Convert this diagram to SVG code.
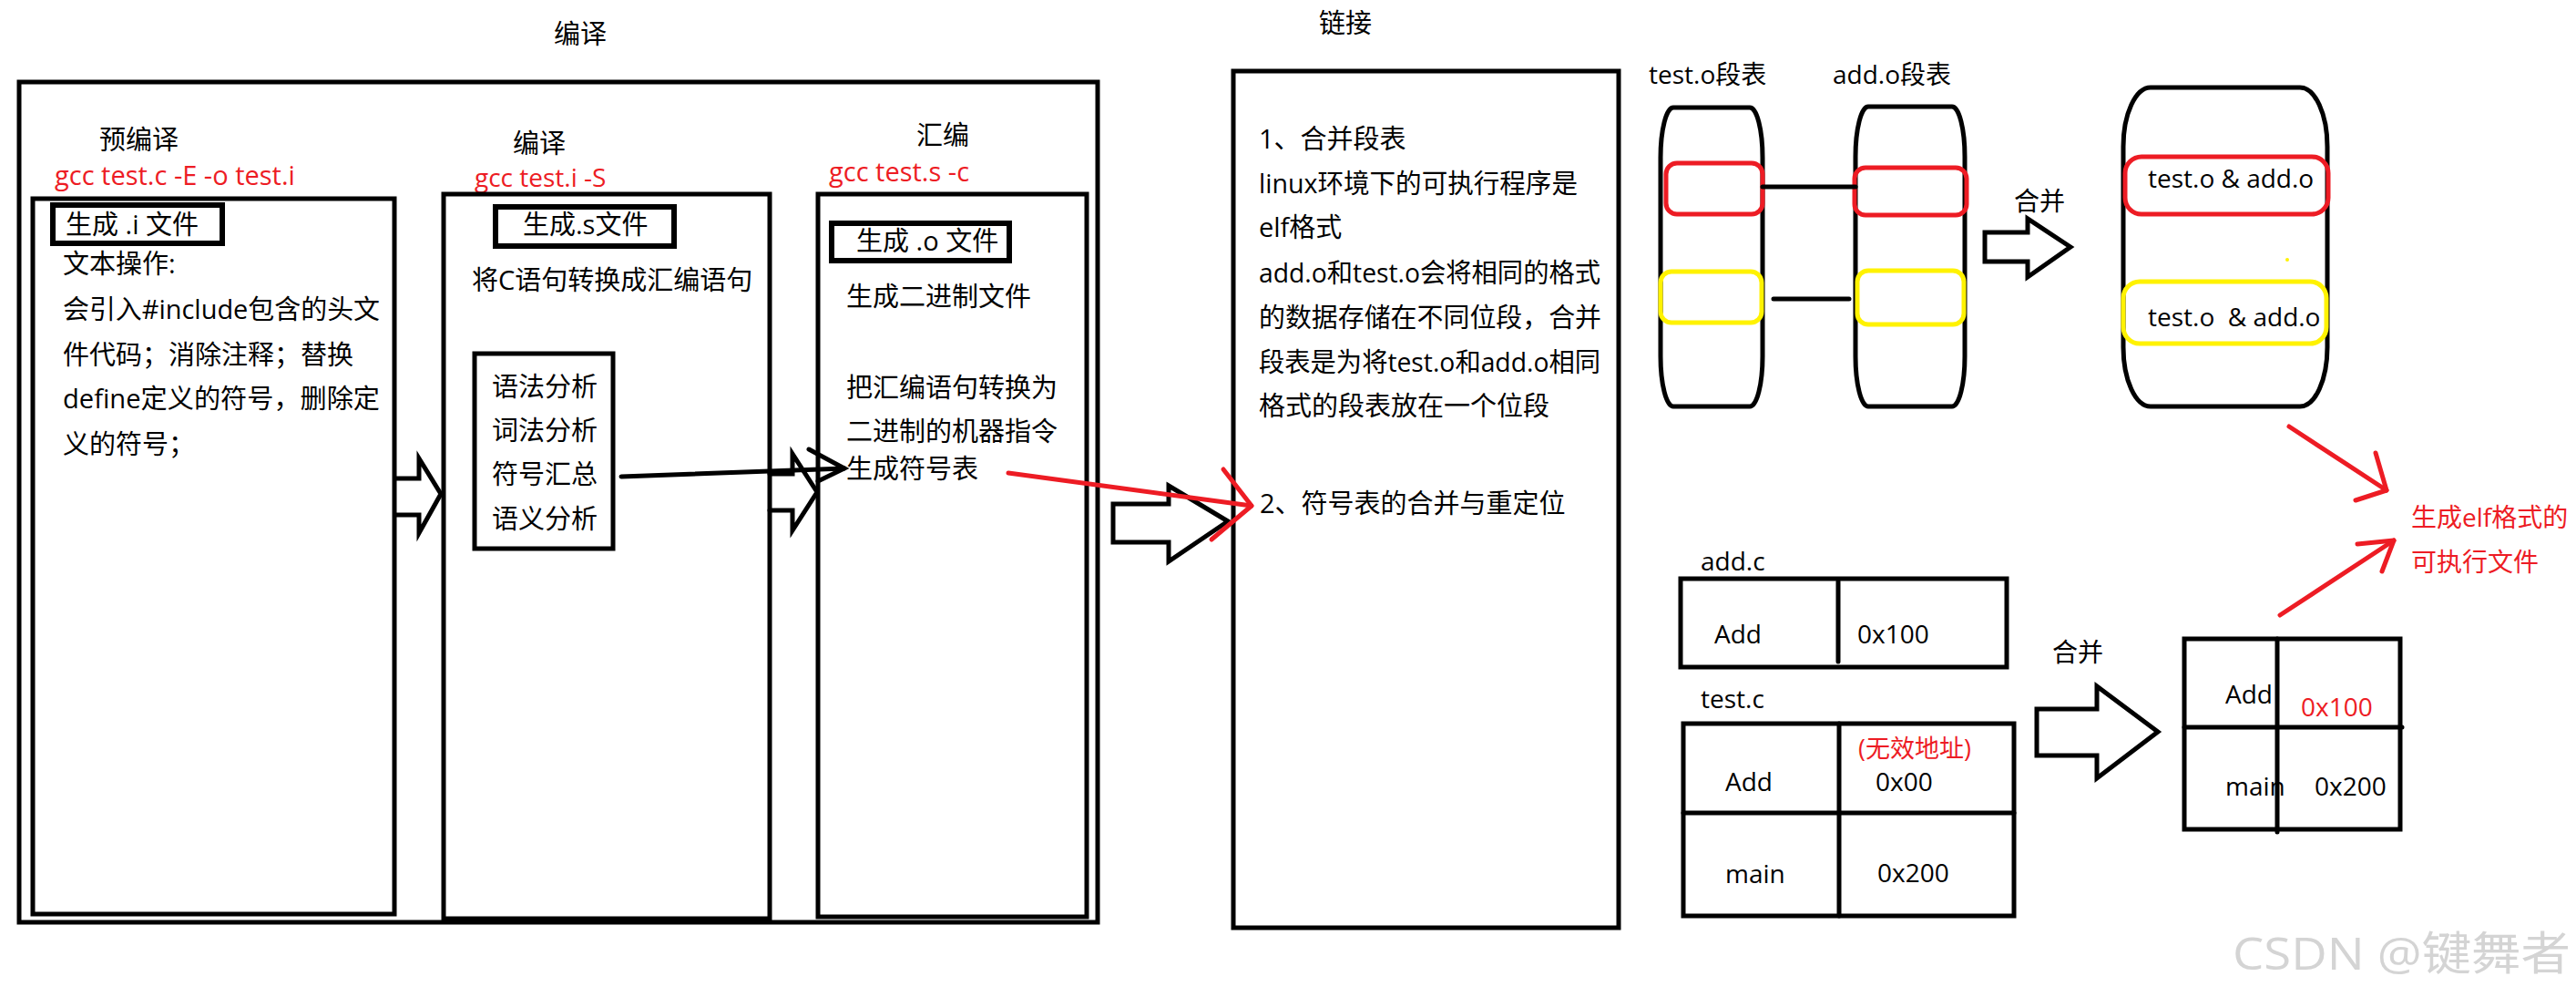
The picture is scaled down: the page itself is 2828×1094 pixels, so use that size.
<svg xmlns="http://www.w3.org/2000/svg" width="2828" height="1094" viewBox="0 0 2828 1094">
<style>
text{font-family:"Open Sans","Noto Sans CJK SC",sans-serif;font-size:29px;fill:#000}
.s{font-size:28px}
.r{fill:#ED1C24}
.box{fill:none;stroke:#000;stroke-width:5}
.lbl{fill:none;stroke:#000;stroke-width:6}
.ln{fill:none;stroke:#000;stroke-width:5;stroke-linecap:round;stroke-linejoin:miter}
.red{fill:none;stroke:#ED1C24;stroke-width:5;stroke-linecap:round;stroke-linejoin:round}
.yel{fill:none;stroke:#FFF200;stroke-width:5}
.wm{font-size:50px;fill:#d4d4d4}
</style>
<rect width="2828" height="1094" fill="#fff"/>

<g id="compile-stage">
  <text x="637" y="48" text-anchor="middle">编译</text>
  <rect class="box" x="21" y="90" width="1184" height="922"/>
</g>

<g id="preprocess">
  <text x="109" y="164">预编译</text>
  <text class="r" x="60" y="203">gcc test.c -E -o test.i</text>
  <rect class="box" x="36" y="218" width="397" height="785"/>
  <rect class="lbl" x="58" y="225" width="186" height="42"/>
  <text x="72" y="257">生成 .i 文件</text>
  <text x="69" y="300">文本操作:</text>
  <text x="69" y="350" textLength="348" lengthAdjust="spacingAndGlyphs">会引入#include包含的头文</text>
  <text x="69" y="400">件代码；消除注释；替换</text>
  <text x="69" y="448" textLength="348" lengthAdjust="spacingAndGlyphs">define定义的符号，删除定</text>
  <text x="69" y="498">义的符号；</text>
</g>

<g id="compile">
  <text x="563" y="168">编译</text>
  <text class="r s" x="521" y="205">gcc test.i -S</text>
  <rect class="box" x="487" y="213" width="358" height="795"/>
  <rect class="lbl" x="544" y="227" width="196" height="43"/>
  <text x="574" y="257">生成.s文件</text>
  <text x="518" y="318">将C语句转换成汇编语句</text>
  <rect class="box" x="521" y="388" width="152" height="214"/>
  <text x="540" y="435">语法分析</text>
  <text x="540" y="483">词法分析</text>
  <text x="540" y="531">符号汇总</text>
  <text x="540" y="580">语义分析</text>
</g>

<g id="assemble">
  <text x="1006" y="159">汇编</text>
  <text class="r" x="910" y="199">gcc test.s -c</text>
  <rect class="box" x="898" y="213" width="295" height="793"/>
  <rect class="lbl" x="913" y="245" width="195" height="41"/>
  <text x="940" y="275">生成 .o 文件</text>
  <text x="929" y="336">生成二进制文件</text>
  <text x="929" y="436">把汇编语句转换为</text>
  <text x="929" y="484">二进制的机器指令</text>
  <text x="929" y="525">生成符号表</text>
</g>

<g id="link">
  <text x="1477" y="36" text-anchor="middle">链接</text>
  <rect class="box" x="1354" y="78" width="423" height="940"/>
  <text x="1382" y="163">1、合并段表</text>
  <text x="1382" y="212" textLength="350" lengthAdjust="spacingAndGlyphs">linux环境下的可执行程序是</text>
  <text x="1382" y="260">elf格式</text>
  <text x="1382" y="310" textLength="375" lengthAdjust="spacingAndGlyphs">add.o和test.o会将相同的格式</text>
  <text x="1382" y="359" textLength="376" lengthAdjust="spacingAndGlyphs">的数据存储在不同位段，合并</text>
  <text x="1382" y="408" textLength="375" lengthAdjust="spacingAndGlyphs">段表是为将test.o和add.o相同</text>
  <text x="1382" y="456">格式的段表放在一个位段</text>
  <text x="1383" y="563">2、符号表的合并与重定位</text>
</g>

<g id="segment-tables">
  <text class="s" x="1810" y="92">test.o段表</text>
  <text class="s" x="2012" y="92">add.o段表</text>
  <rect class="box" x="1823" y="118" width="112" height="328" rx="14" ry="55"/>
  <rect class="box" x="2037" y="117" width="120" height="329" rx="14" ry="55"/>
  <rect class="red" x="1829" y="179" width="106" height="56" rx="12"/>
  <rect class="red" x="2036" y="184" width="123" height="52" rx="12"/>
  <rect class="yel" x="1823" y="298" width="111" height="56" rx="12"/>
  <rect class="yel" x="2039" y="297" width="117" height="59" rx="12"/>
</g>

<g id="merged-table">
  <text class="s" x="2211" y="231">合并</text>
  <rect class="box" x="2331" y="96" width="224" height="350" rx="30" ry="65"/>
  <rect class="red" x="2333" y="172" width="223" height="63" rx="18"/>
  <text class="s" x="2358" y="206">test.o &amp; add.o</text>
  <rect class="yel" x="2331" y="309" width="223" height="68" rx="18"/>
  <text class="s" x="2358" y="358" xml:space="preserve">test.o  &amp; add.o</text>
  <circle cx="2511" cy="285" r="2" fill="#FFF200"/>
</g>

<g id="elf-result">
  <text class="s r" x="2647" y="578">生成elf格式的</text>
  <text class="s r" x="2647" y="627">可执行文件</text>
</g>

<g id="addc-table">
  <text class="s" x="1867" y="626">add.c</text>
  <rect class="box" x="1845" y="635" width="358" height="97"/>
  <line class="ln" x1="2018" y1="638" x2="2018" y2="726"/>
  <text class="s" x="1882" y="706">Add</text>
  <text class="s" x="2039" y="706">0x100</text>
</g>

<g id="testc-table">
  <text class="s" x="1867" y="777">test.c</text>
  <rect class="box" x="1848" y="794" width="363" height="211"/>
  <line class="ln" x1="1848" y1="892" x2="2211" y2="892"/>
  <line class="ln" x1="2019" y1="794" x2="2019" y2="1005"/>
  <text class="r" x="2040" y="831" style="font-size:27px">(无效地址)</text>
  <text class="s" x="1894" y="868">Add</text>
  <text class="s" x="2059" y="868">0x00</text>
  <text class="s" x="1894" y="969">main</text>
  <text class="s" x="2061" y="968">0x200</text>
</g>

<g id="symbol-merge">
  <text class="s" x="2253" y="726">合并</text>
  <rect class="box" x="2398" y="701" width="237" height="209"/>
  <line class="ln" x1="2398" y1="798" x2="2637" y2="798"/>
  <line class="ln" x1="2500" y1="701" x2="2500" y2="913"/>
  <text class="s" x="2443" y="772">Add</text>
  <text class="s r" x="2526" y="786">0x100</text>
  <text class="s" x="2443" y="873">main</text>
  <text class="s" x="2541" y="873">0x200</text>
</g>

<g id="connectors">
  <polyline class="ln" points="435,525 460,525 460,503 484,542 460,585 460,565 435,565"/>
  <polyline class="ln" points="845,520 870,520 870,498 897,540 870,582 870,560 845,560"/>
  <line class="ln" x1="682" y1="523" x2="927" y2="514"/>
  <polyline class="ln" points="888,493 927,514 898,528"/>
  <polygon class="ln" points="1222,553 1283,553 1283,533 1348,572 1283,616 1283,595 1222,595"/>
  <line class="red" x1="1107" y1="519" x2="1374" y2="555"/>
  <polyline class="red" points="1343,515 1374,555 1330,592"/>
  <line class="ln" x1="1935" y1="205" x2="2037" y2="205"/>
  <line class="ln" x1="1947" y1="328" x2="2030" y2="328"/>
  <polygon class="ln" points="2179,255 2226,255 2226,240 2273,271 2226,304 2226,287 2179,287"/>
  <polygon class="ln" points="2236,778 2302,778 2302,753 2369,803 2302,854 2302,829 2236,829"/>
  <line class="red" x1="2513" y1="468" x2="2620" y2="538"/>
  <polyline class="red" points="2608,497 2620,538 2586,549"/>
  <line class="red" x1="2503" y1="675" x2="2628" y2="593"/>
  <polyline class="red" points="2588,597 2628,593 2615,627"/>
</g>

<text class="wm" x="2451" y="1064" textLength="371" lengthAdjust="spacingAndGlyphs">CSDN @键舞者</text>
</svg>
